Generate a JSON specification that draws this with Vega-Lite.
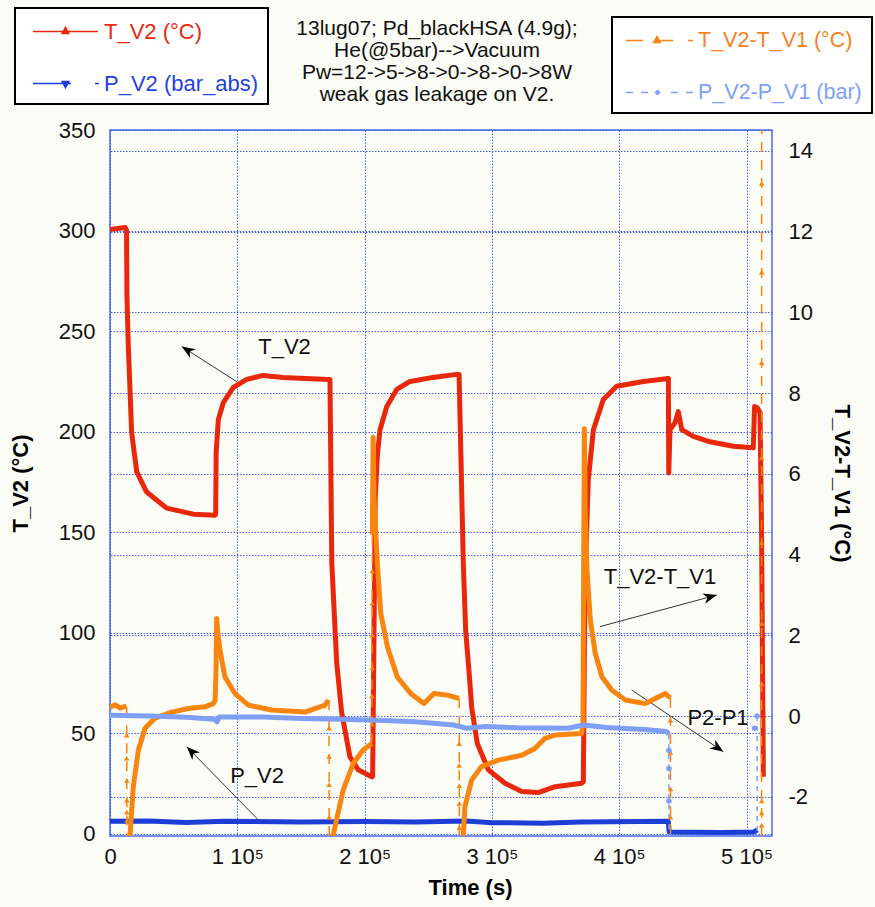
{
"$schema":"https://vega.github.io/schema/vega-lite/v6.json",
"width":662,"height":706,
"autosize":{"type":"none"},
"padding":{"left":110,"top":130,"right":103,"bottom":71},
"background":"#fcfcf6",
"config":{
 "font":"Liberation Sans",
 "view":{"stroke":"#4a6af0","strokeWidth":1.5},
 "axis":{"labelFont":"Liberation Sans","labelFontSize":22,"labelColor":"#111","labelFlush":false,"titleFont":"Liberation Sans","titleFontSize":22,"titleFontWeight":"bold","titleColor":"#000","domain":false,"ticks":false,"grid":true,"gridColor":"#2f50e6","gridDash":[1.5,1.5],"gridOpacity":0.9,"gridWidth":1}
},
"title":{"text":["13lug07; Pd_blackHSA (4.9g);","He(@5bar)-->Vacuum","Pw=12->5->8->0->8->0->8W","weak gas leakage on V2."],"font":"Liberation Sans","fontSize":21,"fontWeight":"normal","color":"#111","lineHeight":22,"anchor":"middle","frame":"group","baseline":"bottom","offset":30,"dy":149,"dx":-4},
"datasets":{
 "left":[
  {"series":"T_V2 (°C)","t":0,"v":300.5},{"series":"T_V2 (°C)","t":12000,"v":301.5},{"series":"T_V2 (°C)","t":13000,"v":300},{"series":"T_V2 (°C)","t":13300,"v":268},{"series":"T_V2 (°C)","t":14300,"v":244},{"series":"T_V2 (°C)","t":17000,"v":199.6},{"series":"T_V2 (°C)","t":21000,"v":180},{"series":"T_V2 (°C)","t":28800,"v":170},{"series":"T_V2 (°C)","t":44500,"v":162},{"series":"T_V2 (°C)","t":65400,"v":159},{"series":"T_V2 (°C)","t":82500,"v":158.5},{"series":"T_V2 (°C)","t":83000,"v":159},{"series":"T_V2 (°C)","t":83400,"v":190},{"series":"T_V2 (°C)","t":85100,"v":206},{"series":"T_V2 (°C)","t":89000,"v":214.5},{"series":"T_V2 (°C)","t":96900,"v":222},{"series":"T_V2 (°C)","t":107400,"v":226},{"series":"T_V2 (°C)","t":120400,"v":228},{"series":"T_V2 (°C)","t":135900,"v":227},{"series":"T_V2 (°C)","t":171500,"v":226},{"series":"T_V2 (°C)","t":172800,"v":226},{"series":"T_V2 (°C)","t":174200,"v":135},{"series":"T_V2 (°C)","t":178100,"v":85},{"series":"T_V2 (°C)","t":182000,"v":60.2},{"series":"T_V2 (°C)","t":188500,"v":38.3},{"series":"T_V2 (°C)","t":195000,"v":31.9},{"series":"T_V2 (°C)","t":205600,"v":28.4},{"series":"T_V2 (°C)","t":206300,"v":28.6},{"series":"T_V2 (°C)","t":207400,"v":101.5},{"series":"T_V2 (°C)","t":208400,"v":168},{"series":"T_V2 (°C)","t":210000,"v":188},{"series":"T_V2 (°C)","t":212100,"v":201},{"series":"T_V2 (°C)","t":217400,"v":212.5},{"series":"T_V2 (°C)","t":225200,"v":221},{"series":"T_V2 (°C)","t":235700,"v":225},{"series":"T_V2 (°C)","t":253700,"v":227},{"series":"T_V2 (°C)","t":272300,"v":228.5},{"series":"T_V2 (°C)","t":274200,"v":228.5},{"series":"T_V2 (°C)","t":277500,"v":135},{"series":"T_V2 (°C)","t":279400,"v":101},{"series":"T_V2 (°C)","t":282100,"v":80},{"series":"T_V2 (°C)","t":284100,"v":63},{"series":"T_V2 (°C)","t":288500,"v":45},{"series":"T_V2 (°C)","t":297200,"v":31.9},{"series":"T_V2 (°C)","t":310300,"v":25.2},{"series":"T_V2 (°C)","t":323400,"v":21.1},{"series":"T_V2 (°C)","t":336400,"v":20.6},{"series":"T_V2 (°C)","t":349600,"v":23.5},{"series":"T_V2 (°C)","t":370500,"v":25.2},{"series":"T_V2 (°C)","t":371800,"v":26},{"series":"T_V2 (°C)","t":373100,"v":126},{"series":"T_V2 (°C)","t":375700,"v":176},{"series":"T_V2 (°C)","t":379700,"v":201},{"series":"T_V2 (°C)","t":387500,"v":216},{"series":"T_V2 (°C)","t":398000,"v":222.6},{"series":"T_V2 (°C)","t":418900,"v":225},{"series":"T_V2 (°C)","t":438600,"v":226.5},{"series":"T_V2 (°C)","t":438900,"v":179.5},{"series":"T_V2 (°C)","t":439900,"v":201},{"series":"T_V2 (°C)","t":443800,"v":204.5},{"series":"T_V2 (°C)","t":446400,"v":210},{"series":"T_V2 (°C)","t":449100,"v":201},{"series":"T_V2 (°C)","t":458200,"v":197.7},{"series":"T_V2 (°C)","t":471300,"v":195},{"series":"T_V2 (°C)","t":489600,"v":192.8},{"series":"T_V2 (°C)","t":505300,"v":192},{"series":"T_V2 (°C)","t":506300,"v":212.5},{"series":"T_V2 (°C)","t":508300,"v":212},{"series":"T_V2 (°C)","t":510600,"v":209.5},{"series":"T_V2 (°C)","t":511800,"v":150},{"series":"T_V2 (°C)","t":513200,"v":28.5},
  {"series":"P_V2 (bar_abs)","t":0,"v":6.3},{"series":"P_V2 (bar_abs)","t":30000,"v":6.4},{"series":"P_V2 (bar_abs)","t":60000,"v":5.7},{"series":"P_V2 (bar_abs)","t":90000,"v":6.3},{"series":"P_V2 (bar_abs)","t":150000,"v":6.0},{"series":"P_V2 (bar_abs)","t":200000,"v":6.2},{"series":"P_V2 (bar_abs)","t":240000,"v":6.0},{"series":"P_V2 (bar_abs)","t":280000,"v":6.5},{"series":"P_V2 (bar_abs)","t":300000,"v":5.6},{"series":"P_V2 (bar_abs)","t":340000,"v":5.4},{"series":"P_V2 (bar_abs)","t":370000,"v":6.0},{"series":"P_V2 (bar_abs)","t":438500,"v":6.3},{"series":"P_V2 (bar_abs)","t":439200,"v":1.0},{"series":"P_V2 (bar_abs)","t":480000,"v":0.8},{"series":"P_V2 (bar_abs)","t":506000,"v":1.0},{"series":"P_V2 (bar_abs)","t":508500,"v":2.0}
 ],
 "rsolid":[
  {"series":"T_V2-T_V1 (°C)","seg":"a","t":0,"v":0.22},{"series":"T_V2-T_V1 (°C)","seg":"a","t":4000,"v":0.28},{"series":"T_V2-T_V1 (°C)","seg":"a","t":8000,"v":0.2},{"series":"T_V2-T_V1 (°C)","seg":"a","t":13000,"v":0.25},
  {"series":"T_V2-T_V1 (°C)","seg":"b","t":15700,"v":-2.97},{"series":"T_V2-T_V1 (°C)","seg":"b","t":18300,"v":-1.75},{"series":"T_V2-T_V1 (°C)","seg":"b","t":22300,"v":-0.84},{"series":"T_V2-T_V1 (°C)","seg":"b","t":27500,"v":-0.3},{"series":"T_V2-T_V1 (°C)","seg":"b","t":35400,"v":-0.05},{"series":"T_V2-T_V1 (°C)","seg":"b","t":48500,"v":0.1},{"series":"T_V2-T_V1 (°C)","seg":"b","t":61500,"v":0.19},{"series":"T_V2-T_V1 (°C)","seg":"b","t":74600,"v":0.23},{"series":"T_V2-T_V1 (°C)","seg":"b","t":81100,"v":0.31},{"series":"T_V2-T_V1 (°C)","seg":"b","t":82600,"v":0.4},{"series":"T_V2-T_V1 (°C)","seg":"b","t":83300,"v":1.2},{"series":"T_V2-T_V1 (°C)","seg":"b","t":83800,"v":2.42},{"series":"T_V2-T_V1 (°C)","seg":"b","t":84600,"v":2.1},{"series":"T_V2-T_V1 (°C)","seg":"b","t":86400,"v":1.63},{"series":"T_V2-T_V1 (°C)","seg":"b","t":90300,"v":0.97},{"series":"T_V2-T_V1 (°C)","seg":"b","t":98200,"v":0.56},{"series":"T_V2-T_V1 (°C)","seg":"b","t":108700,"v":0.27},{"series":"T_V2-T_V1 (°C)","seg":"b","t":127000,"v":0.15},{"series":"T_V2-T_V1 (°C)","seg":"b","t":153200,"v":0.1},{"series":"T_V2-T_V1 (°C)","seg":"b","t":168900,"v":0.27},{"series":"T_V2-T_V1 (°C)","seg":"b","t":171500,"v":0.4},
  {"series":"T_V2-T_V1 (°C)","seg":"c","t":175300,"v":-2.97},{"series":"T_V2-T_V1 (°C)","seg":"c","t":176700,"v":-2.74},{"series":"T_V2-T_V1 (°C)","seg":"c","t":183200,"v":-1.83},{"series":"T_V2-T_V1 (°C)","seg":"c","t":191100,"v":-1.17},{"series":"T_V2-T_V1 (°C)","seg":"c","t":198900,"v":-0.84},{"series":"T_V2-T_V1 (°C)","seg":"c","t":205600,"v":-0.68},
  {"series":"T_V2-T_V1 (°C)","seg":"d","t":206100,"v":4.5},{"series":"T_V2-T_V1 (°C)","seg":"d","t":206700,"v":6.91},{"series":"T_V2-T_V1 (°C)","seg":"d","t":207400,"v":5.43},{"series":"T_V2-T_V1 (°C)","seg":"d","t":210000,"v":3.78},{"series":"T_V2-T_V1 (°C)","seg":"d","t":212700,"v":2.54},{"series":"T_V2-T_V1 (°C)","seg":"d","t":217900,"v":1.72},{"series":"T_V2-T_V1 (°C)","seg":"d","t":225700,"v":0.97},{"series":"T_V2-T_V1 (°C)","seg":"d","t":236200,"v":0.56},{"series":"T_V2-T_V1 (°C)","seg":"d","t":246600,"v":0.31},{"series":"T_V2-T_V1 (°C)","seg":"d","t":254500,"v":0.56},{"series":"T_V2-T_V1 (°C)","seg":"d","t":265000,"v":0.52},{"series":"T_V2-T_V1 (°C)","seg":"d","t":274100,"v":0.44},
  {"series":"T_V2-T_V1 (°C)","seg":"e","t":277500,"v":-2.97},{"series":"T_V2-T_V1 (°C)","seg":"e","t":278800,"v":-2.24},{"series":"T_V2-T_V1 (°C)","seg":"e","t":284100,"v":-1.58},{"series":"T_V2-T_V1 (°C)","seg":"e","t":291900,"v":-1.25},{"series":"T_V2-T_V1 (°C)","seg":"e","t":305000,"v":-1.09},{"series":"T_V2-T_V1 (°C)","seg":"e","t":323400,"v":-0.97},{"series":"T_V2-T_V1 (°C)","seg":"e","t":333800,"v":-0.8},{"series":"T_V2-T_V1 (°C)","seg":"e","t":341700,"v":-0.55},{"series":"T_V2-T_V1 (°C)","seg":"e","t":349600,"v":-0.47},{"series":"T_V2-T_V1 (°C)","seg":"e","t":370500,"v":-0.43},{"series":"T_V2-T_V1 (°C)","seg":"e","t":371500,"v":-0.2},{"series":"T_V2-T_V1 (°C)","seg":"e","t":372000,"v":3.0},{"series":"T_V2-T_V1 (°C)","seg":"e","t":372600,"v":7.12},{"series":"T_V2-T_V1 (°C)","seg":"e","t":373400,"v":4.85},{"series":"T_V2-T_V1 (°C)","seg":"e","t":374700,"v":3.61},{"series":"T_V2-T_V1 (°C)","seg":"e","t":377300,"v":2.38},{"series":"T_V2-T_V1 (°C)","seg":"e","t":381200,"v":1.55},{"series":"T_V2-T_V1 (°C)","seg":"e","t":386500,"v":0.97},{"series":"T_V2-T_V1 (°C)","seg":"e","t":394300,"v":0.64},{"series":"T_V2-T_V1 (°C)","seg":"e","t":404800,"v":0.4},{"series":"T_V2-T_V1 (°C)","seg":"e","t":420500,"v":0.31},{"series":"T_V2-T_V1 (°C)","seg":"e","t":436200,"v":0.56},{"series":"T_V2-T_V1 (°C)","seg":"e","t":440100,"v":0.45},
  {"series":"P_V2-P_V1 (bar)","seg":"f","t":0,"v":0.02},{"series":"P_V2-P_V1 (bar)","seg":"f","t":30000,"v":0.0},{"series":"P_V2-P_V1 (bar)","seg":"f","t":60000,"v":-0.03},{"series":"P_V2-P_V1 (bar)","seg":"f","t":82000,"v":-0.08},{"series":"P_V2-P_V1 (bar)","seg":"f","t":84000,"v":-0.14},{"series":"P_V2-P_V1 (bar)","seg":"f","t":86000,"v":-0.02},{"series":"P_V2-P_V1 (bar)","seg":"f","t":120000,"v":-0.02},{"series":"P_V2-P_V1 (bar)","seg":"f","t":150000,"v":-0.06},{"series":"P_V2-P_V1 (bar)","seg":"f","t":180000,"v":-0.08},{"series":"P_V2-P_V1 (bar)","seg":"f","t":210000,"v":-0.1},{"series":"P_V2-P_V1 (bar)","seg":"f","t":240000,"v":-0.14},{"series":"P_V2-P_V1 (bar)","seg":"f","t":270000,"v":-0.22},{"series":"P_V2-P_V1 (bar)","seg":"f","t":280000,"v":-0.3},{"series":"P_V2-P_V1 (bar)","seg":"f","t":295000,"v":-0.26},{"series":"P_V2-P_V1 (bar)","seg":"f","t":320000,"v":-0.29},{"series":"P_V2-P_V1 (bar)","seg":"f","t":360000,"v":-0.3},{"series":"P_V2-P_V1 (bar)","seg":"f","t":372000,"v":-0.22},{"series":"P_V2-P_V1 (bar)","seg":"f","t":390000,"v":-0.28},{"series":"P_V2-P_V1 (bar)","seg":"f","t":420000,"v":-0.33},{"series":"P_V2-P_V1 (bar)","seg":"f","t":437000,"v":-0.38},{"series":"P_V2-P_V1 (bar)","seg":"f","t":439000,"v":-0.45}
 ],
 "rjump":[
  {"series":"dT","j":1,"t":13100,"v":0.22},{"series":"dT","j":1,"t":13300,"v":-2.97},
  {"series":"dT","j":2,"t":172000,"v":0.4},{"series":"dT","j":2,"t":172200,"v":-2.97},
  {"series":"dT","j":3,"t":205700,"v":-0.68},{"series":"dT","j":3,"t":206100,"v":4.5},
  {"series":"dT","j":4,"t":274300,"v":0.44},{"series":"dT","j":4,"t":274400,"v":-2.97},
  {"series":"dT","j":5,"t":440200,"v":0.45},{"series":"dT","j":5,"t":440300,"v":-2.97},
  {"series":"dT","j":6,"t":511800,"v":-2.97},{"series":"dT","j":6,"t":511900,"v":15},
  {"series":"dP","j":7,"t":439000,"v":-0.45},{"series":"dP","j":7,"t":439100,"v":-2.97},
  {"series":"dP","j":8,"t":508300,"v":0},{"series":"dP","j":8,"t":508400,"v":-2.97}
 ],
 "rmarks":[
  {"series":"dT","t":13100,"v":-0.47},{"series":"dT","t":13100,"v":-1.04},{"series":"dT","t":13200,"v":-1.59},{"series":"dT","t":13200,"v":-2.08},{"series":"dT","t":13200,"v":-2.38},{"series":"dT","t":13300,"v":-2.58},
  {"series":"dT","t":172100,"v":-0.3},{"series":"dT","t":172100,"v":-1.0},{"series":"dT","t":172100,"v":-1.7},{"series":"dT","t":172200,"v":-2.5},
  {"series":"dT","t":205800,"v":-0.2},{"series":"dT","t":205800,"v":0.5},{"series":"dT","t":205900,"v":1.2},{"series":"dT","t":205900,"v":2.0},{"series":"dT","t":206000,"v":2.8},{"series":"dT","t":206000,"v":3.6},
  {"series":"dT","t":274300,"v":-0.68},{"series":"dT","t":274300,"v":-1.22},{"series":"dT","t":274400,"v":-1.72},{"series":"dT","t":274400,"v":-2.16},{"series":"dT","t":274400,"v":-2.76},
  {"series":"dT","t":440200,"v":-0.1},{"series":"dT","t":440200,"v":-0.9},{"series":"dT","t":440300,"v":-1.8},{"series":"dT","t":440300,"v":-2.5},
  {"series":"dT","t":511900,"v":13.2},{"series":"dT","t":511900,"v":11.0},{"series":"dT","t":511900,"v":8.76},{"series":"dT","t":511900,"v":6.4},{"series":"dT","t":511900,"v":4.3},{"series":"dT","t":511900,"v":2.3},{"series":"dT","t":511900,"v":0.8},{"series":"dT","t":511900,"v":-2.1},{"series":"dT","t":511900,"v":-2.4},{"series":"dT","t":511900,"v":-2.7},
  {"series":"dP","t":439050,"v":-0.85},{"series":"dP","t":439050,"v":-1.3},{"series":"dP","t":439050,"v":-2.1},{"series":"dP","t":508300,"v":0},{"series":"dP","t":506300,"v":-0.3}
 ],
 "notes":[
  {"label":"T_V2","t":137100,"v":242.2},
  {"label":"P_V2","t":115500,"v":28.8},
  {"label":"T_V2-T_V1","t":432000,"v":127.8},
  {"label":"P2-P1","t":477600,"v":57.7}
 ],
 "arrows":[
  {"id":"a1","t":99500,"v":224.9,"t2":56300,"v2":242.4,"angle":302.5},
  {"id":"a2","t":116500,"v":7.0,"t2":60300,"v2":43.4,"angle":315.7},
  {"id":"a3","t":384900,"v":103.1,"t2":476600,"v2":118.8,"angle":74.8},
  {"id":"a4","t":409800,"v":71.6,"t2":481800,"v2":40.9,"angle":124}
 ]
},
"encoding":{
 "x":{"field":"t","type":"quantitative","scale":{"domain":[0,520000],"nice":false,"zero":false},
      "axis":{"orient":"bottom","title":"Time (s)","grid":true,"values":[0,100000,200000,300000,400000,500000],"labelExpr":"datum.value == 0 ? '0' : format(datum.value/100000,'d') + ' 10⁵'","labelPadding":10,"titlePadding":10,"titleX":360}}
},
"layer":[
 {
  "encoding":{
   "y":{"field":"v","type":"quantitative","scale":{"domain":[-1,350],"nice":false,"zero":false},
        "axis":{"orient":"left","title":"T_V2 (°C)","grid":true,"values":[0,50,100,150,200,250,300,350],"labelPadding":15,"titlePadding":26}}
  },
  "layer":[
   {"data":{"name":"left"},"mark":{"type":"line","strokeWidth":5,"strokeJoin":"round","clip":true},
    "encoding":{"color":{"field":"series","type":"nominal","scale":{"domain":["T_V2 (°C)","P_V2 (bar_abs)"],"range":["#e8280c","#1c3ed6"]},
      "legend":{"title":null,"orient":"none","legendX":-95,"legendY":-122,"direction":"vertical","padding":9.5,"rowPadding":27,"symbolType":"M-2.5,0H2.5","symbolSize":676,"symbolStrokeWidth":1.5,"symbolOffset":27,"labelOffset":24.5,"labelFont":"Liberation Sans","labelFontSize":22,"labelLimit":400,"strokeColor":"#000","fillColor":"#ffffff",
       "encode":{"symbols":{"update":{"shape":{"signal":"datum.label === 'T_V2 (°C)' ? 'M-2.5,0H2.5M0,-0.32L0.26,0.16L-0.26,0.16Z' : 'M-2.5,0H0.42M2.27,0H2.58M0,0.32L0.26,-0.16L-0.26,-0.16Z'"},"fill":{"signal":"datum.label === 'T_V2 (°C)' ? '#e8280c' : '#1f42dd'"},"fillOpacity":{"value":1}}},
                 "labels":{"update":{"fill":{"signal":"datum.label === 'T_V2 (°C)' ? '#e8280c' : '#1f42dd'"}}},
                 "legend":{"update":{"strokeWidth":{"value":2}}}}}}}},
   {"data":{"name":"arrows"},"mark":{"type":"rule","color":"#333","strokeWidth":1},"encoding":{"x2":{"field":"t2"},"y2":{"field":"v2"}}},
   {"data":{"name":"arrows"},"mark":{"type":"point","shape":"M0,0L0.75,1.9L0,1.35L-0.75,1.9Z","filled":true,"color":"#000","size":200,"opacity":1},
    "encoding":{"x":{"field":"t2","type":"quantitative"},"y":{"field":"v2","type":"quantitative"},"angle":{"field":"angle","type":"quantitative","scale":null}}},
   {"data":{"name":"notes"},"mark":{"type":"text","fontSize":22,"font":"Liberation Sans","color":"#111"},"encoding":{"text":{"field":"label"}}}
  ]
 },
 {
  "encoding":{
   "y":{"field":"v","type":"quantitative","scale":{"domain":[-2.97,14.52],"nice":false,"zero":false},
        "axis":{"orient":"right","title":"T_V2-T_V1 (°C)","grid":true,"values":[-2,0,2,4,6,8,10,12,14],"labelExpr":"datum.value < 0 ? '-' + abs(datum.value) : '' + datum.value","labelPadding":16,"titlePadding":17}}
  },
  "layer":[
   {"data":{"name":"rjump"},"mark":{"type":"line","strokeWidth":1.5,"clip":true},
    "encoding":{"detail":{"field":"j"},
     "color":{"condition":{"test":"datum.series == 'dT'","value":"#f7850f"},"value":"#7f9ff5"},
     "strokeDash":{"condition":{"test":"datum.series == 'dT'","value":[10,8]},"value":[5,5]}}},
   {"data":{"name":"rsolid"},"mark":{"type":"line","strokeWidth":5,"strokeJoin":"round","clip":true},
    "encoding":{"detail":{"field":"seg"},
     "color":{"field":"series","type":"nominal","scale":{"domain":["T_V2-T_V1 (°C)","P_V2-P_V1 (bar)"],"range":["#f7850f","#7f9ff5"]},
      "legend":{"title":null,"orient":"none","legendX":502,"legendY":-113,"direction":"vertical","padding":9.5,"rowPadding":27,"symbolType":"M-2.5,0H2.5","symbolSize":676,"symbolStrokeWidth":1.5,"symbolOffset":24,"labelOffset":24.5,"labelFont":"Liberation Sans","labelFontSize":21.5,"labelLimit":400,"strokeColor":"#000","fillColor":"#ffffff",
       "encode":{"symbols":{"update":{"shape":{"signal":"datum.label === 'T_V2-T_V1 (°C)' ? 'M-2.58,0H-1.27M-0.19,0H1.04M2.19,0H2.58M-0.19,-0.3L0.07,0.15L-0.45,0.15Z' : 'M-2.58,0H-2.04M-1.42,0H-0.88M0.88,0H1.42M2.04,0H2.58M-0.15,-0.15L0,0L-0.15,0.15L-0.3,0Z'"},"fill":{"signal":"datum.label === 'T_V2-T_V1 (°C)' ? '#f5821f' : '#7f9ff5'"},"fillOpacity":{"value":1}}},
                 "labels":{"update":{"fill":{"signal":"datum.label === 'T_V2-T_V1 (°C)' ? '#f5821f' : '#7f9ff5'"}}},
                 "legend":{"update":{"strokeWidth":{"value":2}}}}}}}},
   {"data":{"name":"rmarks"},"mark":{"type":"point","filled":true,"size":30,"opacity":1,"clip":true},
    "encoding":{"shape":{"field":"series","type":"nominal","scale":{"domain":["dT","dP"],"range":["triangle-up","circle"]},"legend":null},
     "color":{"condition":{"test":"datum.series == 'dT'","value":"#f7850f"},"value":"#7f9ff5"}}}
  ]
 }
],
"resolve":{"scale":{"y":"independent","color":"independent"}}
}
